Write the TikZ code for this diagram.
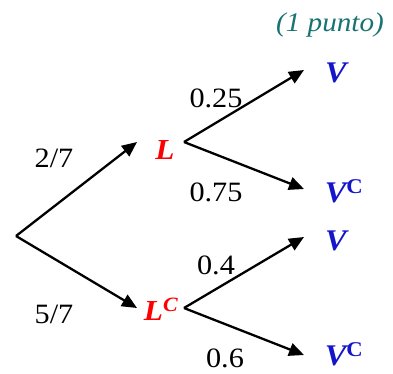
\documentclass[tikz,border=0pt]{standalone}
\usepackage{fontspec}
\setmainfont{Liberation Serif}[FakeStretch=1.08]
\usetikzlibrary{arrows.meta}
\definecolor{lred}{RGB}{255,0,0}
\definecolor{vblue}{RGB}{20,20,200}
\definecolor{tealtxt}{RGB}{26,115,115}
\begin{document}
\begin{tikzpicture}[x=1pt,y=-1pt,
  arr/.style={line width=2.3pt,-{Triangle[length=15pt,width=13pt]}},
  num/.style={inner sep=0pt,font=\fontsize{28}{32}\selectfont},
  evL/.style={inner sep=0pt,text=lred,font=\fontsize{29}{32}\selectfont\bfseries\itshape},
  evV/.style={inner sep=0pt,text=vblue,font=\fontsize{30}{32}\selectfont\bfseries\itshape},
  note/.style={inner sep=0pt,text=tealtxt,font=\fontsize{27}{30}\selectfont\itshape}]
\useasboundingbox (0,0) rectangle (393,373);
% junction points
\coordinate (root) at (16,236);
\coordinate (Lin) at (137,142);
\coordinate (Lout) at (184,142);
\coordinate (LCin) at (137,308);
\coordinate (LCout) at (184,308);
\coordinate (V1in) at (304,70);
\coordinate (VC1in) at (304,189);
\coordinate (V2in) at (304,237);
\coordinate (VC2in) at (304,355);
% event labels
\node[evL] (L) at (165,150) {L};
\node[evL] (LC) at (161,309) {L\textsuperscript{C}};
\node[evV] (V1) at (336,73) {V};
\node[evV] (VC1) at (344,191) {V\textsuperscript{\upshape C}};
\node[evV] (V2) at (336,241) {V};
\node[evV] (VC2) at (344,354) {V\textsuperscript{\upshape C}};
% probabilities
\node[num] (p27) at (54,158) {2/7};
\node[num] (p57) at (54,314) {5/7};
\node[num] (p025) at (216,98) {0.25};
\node[num] (p075) at (216,192) {0.75};
\node[num] (p04) at (216,265) {0.4};
\node[num] (p06) at (225,358) {0.6};
\node[note] (punto) at (330,25) {(1 punto)};
% branches
\draw[arr] (root) -- (Lin);
\draw[arr] (root) -- (LCin);
\draw[arr] (Lout) -- (V1in);
\draw[arr] (Lout) -- (VC1in);
\draw[arr] (LCout) -- (V2in);
\draw[arr] (LCout) -- (VC2in);
\end{tikzpicture}
\end{document}
